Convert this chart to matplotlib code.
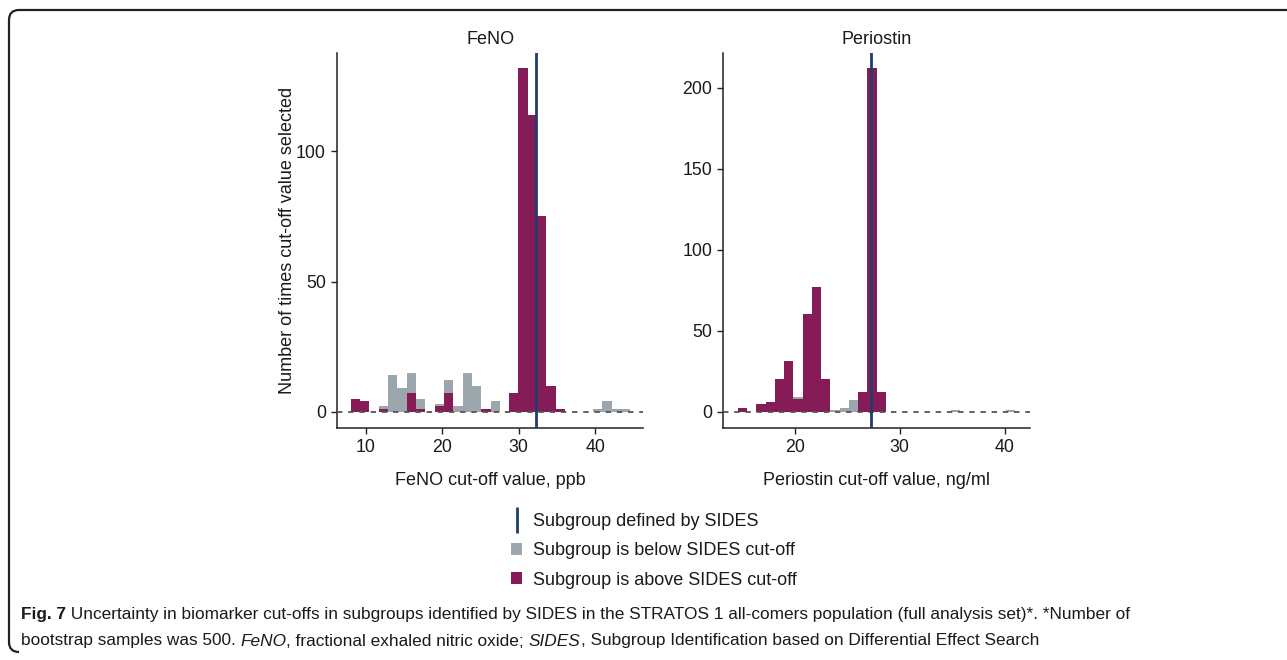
import numpy as np
import matplotlib
matplotlib.use("Agg")
import matplotlib.pyplot as plt
from matplotlib.lines import Line2D
from matplotlib.patches import Patch, PathPatch
from matplotlib.path import Path

# histogram bins (cut-off value, left edge of first bin and bin width)
feno_bin_start, feno_bin_width = 8.0, 1.22
peri_bin_start, peri_bin_width = 14.6, 0.88

# counts per bin
feno_below = [0, 0, 0, 2, 14, 9, 15, 5, 0, 3, 12, 2, 15, 10, 0,
              4, 0, 0, 0, 0, 0, 0, 0, 0, 0, 0, 1, 4, 1, 1]
feno_above = [5, 4, 0, 1, 0, 0, 7, 1, 0, 2, 7, 0, 0, 0, 1,
              0, 0, 7, 132, 114, 75, 10, 1, 0, 0, 0, 0, 0, 0, 0]
peri_below = [0, 0, 0, 0, 0, 0, 9, 0, 0, 0, 1, 2, 7, 0, 0,
              0, 0, 0, 0, 0, 0, 0, 0, 1, 0, 0, 0, 0, 0, 1]
peri_above = [2, 0, 5, 6, 20, 31, 8, 60, 77, 20, 0, 0, 0, 12, 212,
              12, 0, 0, 0, 0, 0, 0, 0, 0, 0, 0, 0, 0, 0, 0]

feno_sides_cut = 32.3
peri_sides_cut = 27.3

panel_titles = ["FeNO", "Periostin"]
x_labels = ["FeNO cut-off value, ppb", "Periostin cut-off value, ng/ml"]
y_label = "Number of times cut-off value selected"
legend_labels = ["Subgroup defined by SIDES",
                 "Subgroup is below SIDES cut-off",
                 "Subgroup is above SIDES cut-off"]

PURPLE = "#861c57"
GREY = "#9ca7ad"
BLUE = "#1f3d6b"
TXT = "#1a1a1a"

W, H = 1287, 660
fig = plt.figure(figsize=(W / 100, H / 100), dpi=100)
plt.rcParams["font.family"] = ["Liberation Sans", "DejaVu Sans"]


def fx(px):
    return px / W


def fy(py):
    return 1 - py / H


ax1 = fig.add_axes([fx(337), fy(428.3), fx(643.3 - 337), (428.3 - 52.5) / H])
ax2 = fig.add_axes([fx(723.3), fy(428.3), fx(1030 - 723.3), (428.3 - 52.5) / H])

panels = [
    (ax1, feno_bin_start, feno_bin_width, feno_below, feno_above, feno_sides_cut,
     (6.2, 46.3), (-6.4, 138), [10, 20, 30, 40], [0, 50, 100]),
    (ax2, peri_bin_start, peri_bin_width, peri_below, peri_above, peri_sides_cut,
     (13.2, 42.4), (-10.3, 221.6), [20, 30, 40], [0, 50, 100, 150, 200]),
]

for i, (ax, start, width, below, above, cut, xl, yl, xt, yt) in enumerate(panels):
    edges = start + width * np.arange(len(below))
    ax.bar(edges, below, width=width, align="edge", color=GREY, linewidth=0, zorder=2)
    ax.bar(edges, above, width=width, align="edge", color=PURPLE, linewidth=0, zorder=3)
    ax.axhline(0, color="#555555", lw=1.3, ls=(0, (3, 3.2)), zorder=4)
    ax.axvline(cut, color=BLUE, lw=2, zorder=5)
    ax.set_xlim(*xl)
    ax.set_ylim(*yl)
    ax.set_xticks(xt)
    ax.set_yticks(yt)
    for s in ["top", "right"]:
        ax.spines[s].set_visible(False)
    for s in ["left", "bottom"]:
        ax.spines[s].set_color("#222222")
        ax.spines[s].set_linewidth(1.1)
    ax.tick_params(axis="both", labelsize=12.8, colors="#222222", labelcolor=TXT,
                   length=4, width=1, pad=4)
    ax.set_title(panel_titles[i], fontsize=13, color=TXT, pad=6)
    ax.set_xlabel(x_labels[i], fontsize=13, color=TXT, labelpad=11)

ax1.set_ylabel(y_label, fontsize=13, color=TXT, labelpad=0)

handles = [
    Line2D([], [], color=BLUE, marker="|", linestyle="None", markersize=19, markeredgewidth=2),
    Patch(facecolor=GREY, edgecolor="none"),
    Patch(facecolor=PURPLE, edgecolor="none"),
]
fig.legend(handles, legend_labels, loc="upper left", bbox_to_anchor=(fx(511), fy(513)),
           frameon=False, fontsize=13, handlelength=0.62, handleheight=0.62,
           handletextpad=0.62, labelspacing=0.68, borderpad=0, borderaxespad=0,
           labelcolor=TXT)

# border: top and left edges with rounded corners
r = 10
verts = [(W + 5, 10), (9 + r, 10), (9, 10), (9, 10 + r), (9, H - 8 - r), (9, H - 8), (9 + r, H - 8)]
codes = [Path.MOVETO, Path.LINETO, Path.CURVE3, Path.CURVE3, Path.LINETO, Path.CURVE3, Path.CURVE3]
verts = [(x / W, 1 - y / H) for x, y in verts]
fig.add_artist(PathPatch(Path(verts, codes), transform=fig.transFigure, fill=False,
                         edgecolor="#222222", lw=1.6))

# caption, drawn piece by piece so mixed styles line up
cap_font = ["Liberation Sans", "DejaVu Sans"]
cap_size = 12.4
renderer = fig.canvas.get_renderer()


def caption_line(pieces, x_px, y_px):
    x = x_px
    for txt, weight, style in pieces:
        t = fig.text(fx(x), fy(y_px), txt, fontsize=cap_size, family=cap_font,
                     fontweight=weight, fontstyle=style, color=TXT, va="center", ha="left")
        x += t.get_window_extent(renderer).width


caption_line([("Fig. 7", "bold", "normal"),
              (" Uncertainty in biomarker cut-offs in subgroups identified by SIDES in the STRATOS 1 "
               "all-comers population (full analysis set)*. *Number of", "normal", "normal")], 21, 615)
caption_line([("bootstrap samples was 500. ", "normal", "normal"),
              ("FeNO", "normal", "italic"),
              (", fractional exhaled nitric oxide; ", "normal", "normal"),
              ("SIDES", "normal", "italic"),
              (", Subgroup Identification based on Differential Effect Search", "normal", "normal")],
             21, 641)

fig.savefig("out.png", dpi=100)
